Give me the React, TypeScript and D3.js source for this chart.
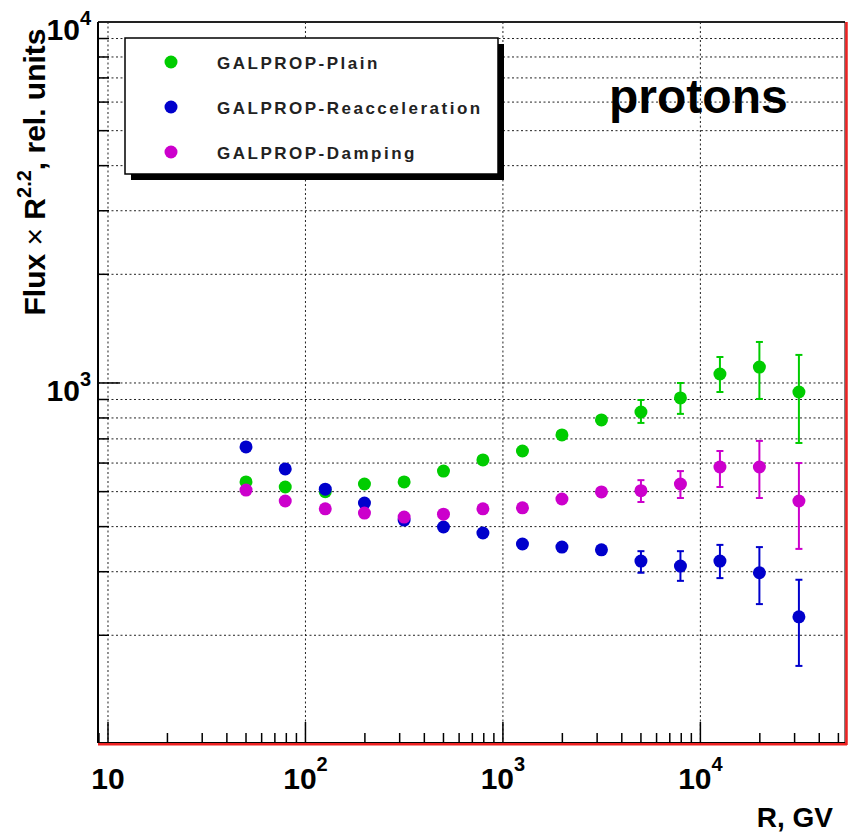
import React from "react";
import * as d3 from "d3";

const rigidity = [50, 79, 126, 199, 316, 500, 792, 1256, 1990, 3155, 5000, 7925, 12560, 19900, 31550];
const plainVals = [532, 515, 500, 525, 532, 570, 612, 648, 718, 790, 831, 909, 1059, 1107, 944];
const plainLo = [null, null, null, null, null, null, null, null, null, null, 775, 821, 944, 903, 682];
const plainHi = [null, null, null, null, null, null, null, null, null, null, 897, 1000, 1180, 1299, 1196];
const reaccVals = [665, 578, 508, 465, 417, 399, 384, 358, 351, 345, 321, 311, 321, 298, 225];
const reaccLo = [null, null, null, null, null, null, null, null, null, null, 298, 283, 288, 244, 164.5];
const reaccHi = [null, null, null, null, null, null, null, null, null, null, 342, 342, 356, 351, 285];
const dampVals = [505, 471, 448, 436, 425, 433, 448, 451, 477, 499, 503, 525, 585, 585, 471];
const dampLo = [null, null, null, null, null, null, null, null, null, null, 468, 480, 515, 480, 347];
const dampHi = [null, null, null, null, null, null, null, null, null, null, 538, 570, 648, 691, 600];

const seriesNames = ["GALPROP-Plain", "GALPROP-Reacceleration", "GALPROP-Damping"];
const seriesColors = ["#00cc00", "#0000cc", "#cc00cc"];
const xMajorTicks = [10, 100, 1000, 10000];
const xTickExp = ["", "2", "3", "4"];
const yMajorTicks = [1000, 10000];
const yTickExp = ["3", "4"];

const FONT = "'Liberation Sans', Arial, Helvetica, sans-serif";

export default function App() {
  const L = 98, R = 845, T = 22, B = 743;
  const x = d3.scaleLog().domain([8.9, 54000]).range([L, R]);
  const y = d3.scaleLog().domain([100.6, 10000]).range([B, T]);

  const xMinor: number[] = [];
  [1, 10, 100, 1000, 10000].forEach((d) => {
    for (let k = 2; k <= 9; k++) {
      const v = d * k;
      if (v > 8.9 && v < 54000) xMinor.push(v);
    }
  });
  const yMinor: number[] = [];
  [100, 1000].forEach((d) => {
    for (let k = 2; k <= 9; k++) yMinor.push(d * k);
  });

  const series = [
    { vals: plainVals, lo: plainLo, hi: plainHi },
    { vals: reaccVals, lo: reaccLo, hi: reaccHi },
    { vals: dampVals, lo: dampLo, hi: dampHi },
  ];

  const gridStyle = { stroke: "#222", strokeWidth: 1, strokeDasharray: "2 2.5" };

  return (
    <svg width={848} height={832} style={{ position: "absolute", left: 0, top: 0, background: "#fff" }}>
      <rect x={0} y={0} width={848} height={832} fill="#fff" />
      {/* grid */}
      {[...yMinor, 1000].map((v, i) => (
        <line key={"hg" + i} x1={L} x2={R} y1={y(v)} y2={y(v)} {...gridStyle} />
      ))}
      {xMajorTicks.map((v, i) => (
        <line key={"vg" + i} x1={x(v)} x2={x(v)} y1={T} y2={B} {...gridStyle} />
      ))}
      {/* ticks */}
      {xMajorTicks.map((v, i) => (
        <line key={"xM" + i} x1={x(v)} x2={x(v)} y1={B} y2={B - 21} stroke="#000" strokeWidth={1.5} />
      ))}
      {xMinor.map((v, i) => (
        <line key={"xm" + i} x1={x(v)} x2={x(v)} y1={B} y2={B - 10} stroke="#000" strokeWidth={1.5} />
      ))}
      {yMajorTicks.map((v, i) => (
        <line key={"yM" + i} x1={L} x2={L + 22} y1={y(v)} y2={y(v)} stroke="#000" strokeWidth={1.5} />
      ))}
      {yMinor.map((v, i) => (
        <line key={"ym" + i} x1={L} x2={L + 11} y1={y(v)} y2={y(v)} stroke="#000" strokeWidth={1.5} />
      ))}
      {/* frame */}
      <line x1={L} x2={R} y1={T} y2={T} stroke="#222" strokeWidth={2} />
      <line x1={L} x2={L} y1={T} y2={B} stroke="#000" strokeWidth={2} />
      <line x1={L} x2={R + 2} y1={B + 1} y2={B + 1} stroke="#ee2222" strokeWidth={3} />
      <line x1={L} x2={R} y1={B - 0.5} y2={B - 0.5} stroke="#000" strokeWidth={1} />
      <line x1={R} x2={R} y1={T} y2={B} stroke="#000" strokeWidth={1} />
      <line x1={R + 1.5} x2={R + 1.5} y1={T} y2={B + 2} stroke="#ee2222" strokeWidth={2.5} />

      {/* data */}
      {series.map((s, si) => (
        <g key={"s" + si}>
          {rigidity.map((r, i) =>
            s.lo[i] != null && s.hi[i] != null ? (
              <g key={"e" + i} stroke={seriesColors[si]} strokeWidth={2}>
                <line x1={x(r)} x2={x(r)} y1={y(s.lo[i] as number)} y2={y(s.hi[i] as number)} />
                <line x1={x(r) - 3.5} x2={x(r) + 3.5} y1={y(s.lo[i] as number)} y2={y(s.lo[i] as number)} />
                <line x1={x(r) - 3.5} x2={x(r) + 3.5} y1={y(s.hi[i] as number)} y2={y(s.hi[i] as number)} />
              </g>
            ) : null
          )}
          {rigidity.map((r, i) => (
            <circle key={"c" + i} cx={x(r)} cy={y(s.vals[i])} r={6.5} fill={seriesColors[si]} />
          ))}
        </g>
      ))}

      {/* legend */}
      <rect x={131} y={44} width={373} height={136} fill="#000" />
      <rect x={125} y={38} width={373} height={136} fill="#fff" stroke="#000" strokeWidth={1.5} />
      {seriesNames.map((n, i) => (
        <g key={"lg" + i}>
          <circle cx={171} cy={62 + i * 45} r={6.5} fill={seriesColors[i]} />
          <text x={217} y={69 + i * 45} fontFamily={FONT} fontWeight="bold" fontSize={17} letterSpacing={2.5} fill="#222">
            {n}
          </text>
        </g>
      ))}

      {/* protons */}
      <text x={609} y={113} fontFamily={FONT} fontWeight="bold" fontSize={48} fill="#000">protons</text>

      {/* x tick labels */}
      {xMajorTicks.map((v, i) => (
        <text key={"xl" + i} x={x(v)} y={789} textAnchor="middle" fontFamily={FONT} fontWeight="bold" fontSize={30} fill="#000">
          10
          {xTickExp[i] ? <tspan fontSize={20} dy={-18}>{xTickExp[i]}</tspan> : null}
        </text>
      ))}
      {/* y tick labels */}
      {yMajorTicks.map((v, i) => (
        <text key={"yl" + i} x={91} y={y(v) + 18} textAnchor="end" fontFamily={FONT} fontWeight="bold" fontSize={30} fill="#000">
          10
          <tspan fontSize={20} dy={-15}>{yTickExp[i]}</tspan>
        </text>
      ))}

      {/* axis titles */}
      <text x={833} y={827} textAnchor="end" fontFamily={FONT} fontWeight="bold" fontSize={28} fill="#000">R, GV</text>
      <text
        transform="translate(45,172) rotate(-90)"
        textAnchor="middle"
        fontFamily={FONT}
        fontWeight="bold"
        fontSize={30}
        fill="#000"
      >
        Flux <tspan fontWeight="normal">×</tspan> R<tspan fontSize={20} dy={-14}>2.2</tspan>
        <tspan dy={14}>, rel. units</tspan>
      </text>
    </svg>
  );
}
